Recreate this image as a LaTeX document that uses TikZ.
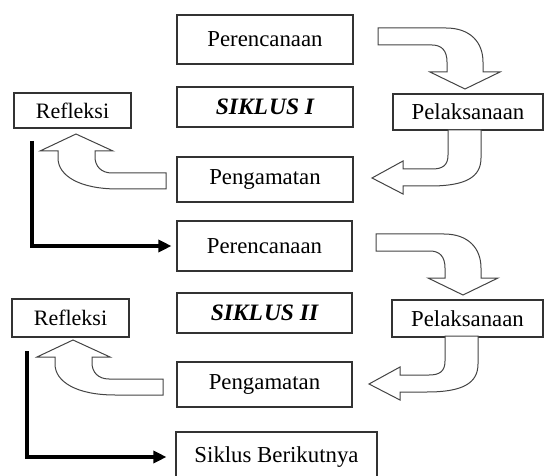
\documentclass[tikz,border=0pt]{standalone}
\usepackage{fontspec}
\setmainfont{Liberation Serif}
\usetikzlibrary{arrows.meta}
\definecolor{boxgray}{HTML}{333333}
\definecolor{arrgray}{HTML}{444444}
\begin{document}
\begin{tikzpicture}[x=1pt,y=-1pt,
  box/.style={draw=boxgray,line width=1.1pt,inner sep=0pt,font=\fontsize{22.8}{27}\selectfont},
  siklus/.style={box,font=\fontsize{23.5}{27}\selectfont\bfseries\itshape},
  blockarrow/.style={draw=arrgray,line width=1pt,fill=white,line join=miter},
  blk/.style={line width=3.2pt,-{Triangle[length=13pt,width=12pt]}}]
\useasboundingbox (0,0) rectangle (544,476);

% ---- Cycle I ----
\node[box,minimum width=176pt,minimum height=49pt] (P1) at (265,39.5) {Perencanaan};
\node[siklus,minimum width=176pt,minimum height=40pt] (S1) at (265,107) {SIKL\kern1pt US I};
\node[box,minimum width=150pt,minimum height=36pt] (L1) at (468,112) {Pelaksanaan};
\node[box,minimum width=176pt,minimum height=45pt] (G1) at (265,179.5) {Pengamatan};
\node[box,minimum width=117pt,minimum height=35pt,font=\fontsize{22}{26}\selectfont] (R1) at (72.5,110.5) {Refleksi};

% ---- Cycle II ----
\node[box,minimum width=175pt,minimum height=50pt] (P2) at (264.5,246) {Perencanaan};
\node[siklus,minimum width=175pt,minimum height=40pt] (S2) at (264.5,313) {SIKL\kern1pt US II};
\node[box,minimum width=151pt,minimum height=37pt] (L2) at (467.5,318.5) {Pelaksanaan};
\node[box,minimum width=175pt,minimum height=45pt] (G2) at (264.5,384.5) {Pengamatan};
\node[box,minimum width=117pt,minimum height=38pt,font=\fontsize{22}{26}\selectfont] (R2) at (70.5,318) {Refleksi};
\node[box,minimum width=201pt,minimum height=50pt] (SB) at (276.5,457) {Siklus Berikutnya};

% ---- block arrows ----
\newcommand{\arrowA}{%
  \draw[blockarrow] (378,28) -- (446,28) .. controls (470,28) and (483,42) .. (483,62)
    -- (483,72) -- (500,72) -- (465,89) -- (430,72) -- (447,72) -- (447,62)
    .. controls (447,51) and (442,45) .. (432,45) -- (378,45) -- cycle;}
\newcommand{\arrowB}{%
  \draw[blockarrow] (448,130) -- (481,130) -- (481,158)
    .. controls (481,177) and (466,186) .. (430,186) -- (403,186) -- (403,194)
    -- (372,178) -- (403,161) -- (403,169) -- (432,169)
    .. controls (443,169) and (448,165) .. (448,155) -- cycle;}
\newcommand{\arrowC}{%
  \draw[blockarrow] (166,173) -- (112,173) .. controls (101,173) and (95,166) .. (95,157)
    -- (95,151) -- (113,151) -- (76,134) -- (40,151) -- (58,151) -- (58,158)
    .. controls (58,176) and (80,189) .. (118,189) -- (166,189) -- cycle;}
\arrowA
\arrowB
\arrowC
\begin{scope}[shift={(-2,206)}]\arrowA\end{scope}
\begin{scope}[shift={(-3,206)}]\arrowB\end{scope}
\begin{scope}[shift={(-3,206)}]\arrowC\end{scope}

% ---- black connectors ----
\coordinate (c1) at (32,141);
\coordinate (c2) at (27,351);
\draw[blk,shorten >=5pt] (c1) |- (P2.west);
\draw[blk,shorten >=9pt] (c2) |- (SB.west);
\end{tikzpicture}
\end{document}
